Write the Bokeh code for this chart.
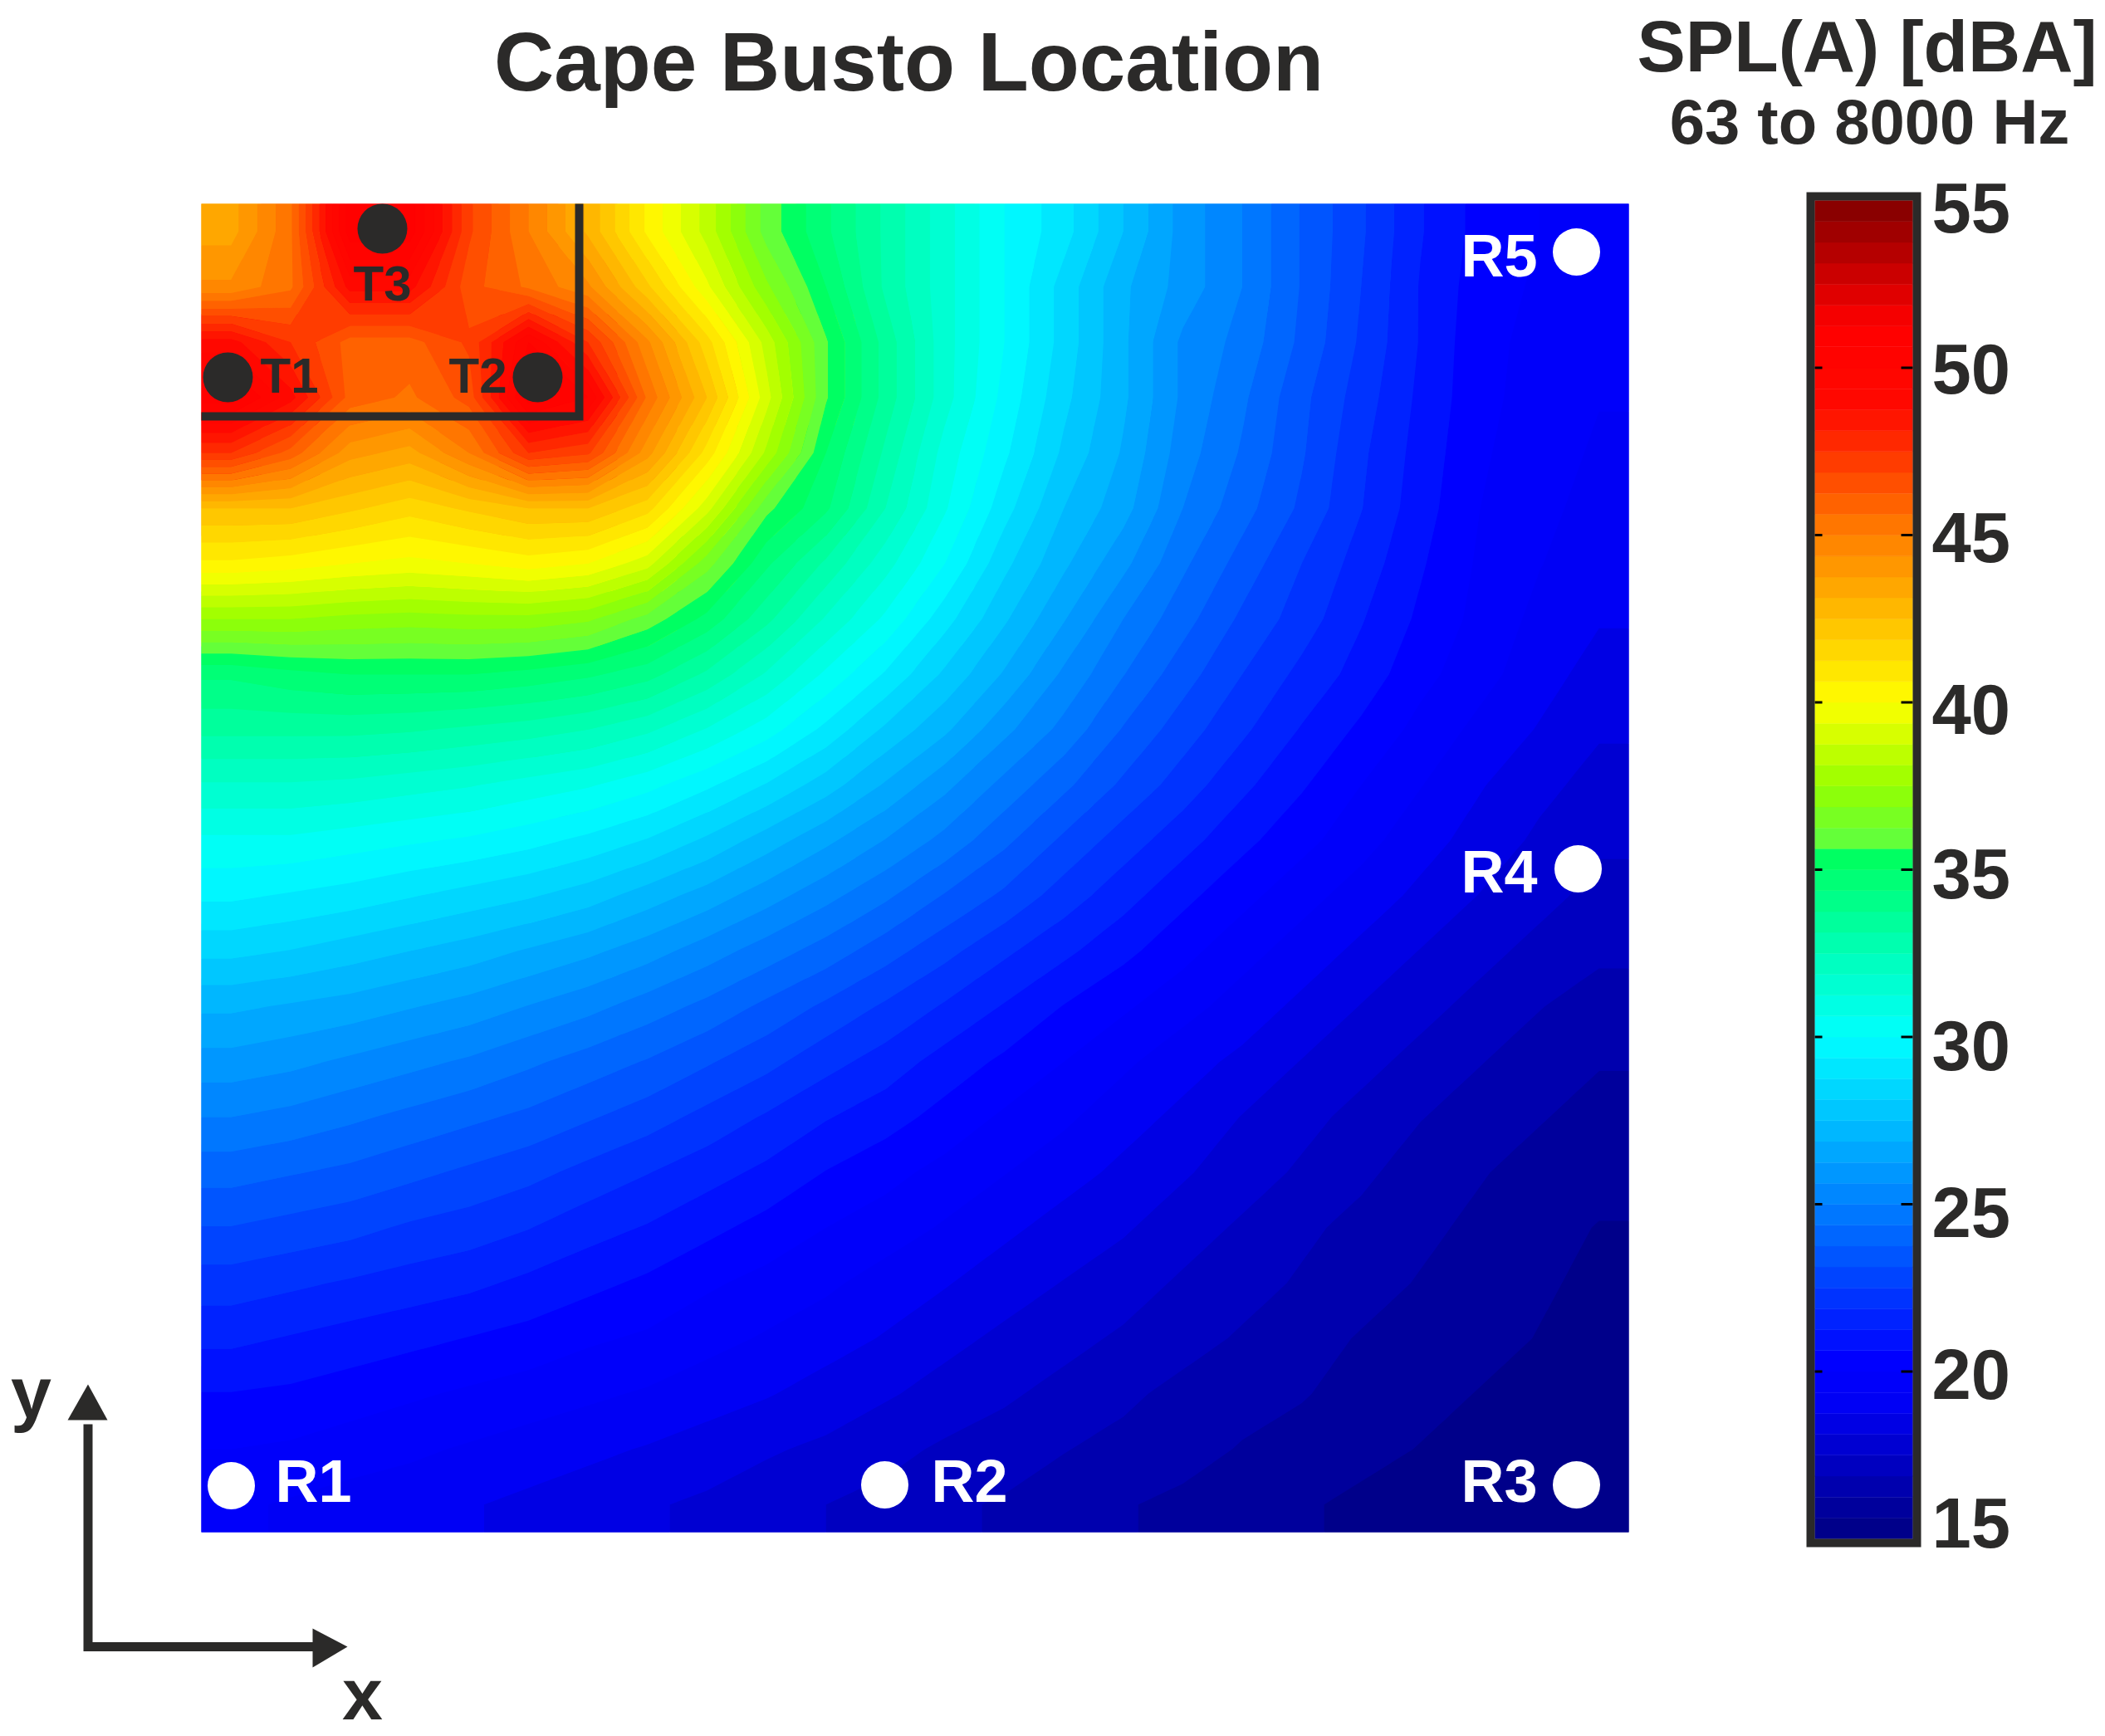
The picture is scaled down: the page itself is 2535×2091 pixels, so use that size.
import numpy as np
from bokeh.plotting import figure
from bokeh.models import LinearColorMapper, ColumnDataSource
from bokeh.core.properties import value
from bokeh.embed import file_html
from bokeh.resources import INLINE

# ---------- data ----------
title = "Cape Busto Location"
cb_title = "SPL(A) [dBA]"
cb_subtitle = "63 to 8000 Hz"
cb_labels = ["55", "50", "45", "40", "35", "30", "25", "20", "15"]
cb_ticks = [50, 45, 40, 35, 30, 25, 20]
db_low, db_high = 15, 55

# SPL [dBA], top row first, left column first
spl_rows = [
 [43.5,45.5,51,51,47,45,43,40.5,38.5,36,34.5,33,31.5,30,29,27.5,26,25,23.7,22.6,21.3,20.4,20,19.7],
 [44.5,45.5,49,49,46.5,45.5,44.5,42,39.5,37,35,33,31.5,30,28.5,27,26,25,23.7,22.5,21.2,20.3,19.9,19.6],
 [49,47.5,46,46,47,50,47.5,44.5,41.5,38.5,35.7,33.5,31.5,30,28.5,27,25.5,24.8,23.6,22.4,21.2,20.2,19.8,19.5],
 [51,49,46,45.5,46.5,51,50,45.5,42.5,39,35.7,33.5,31.5,29.8,28.3,27,25.5,24.5,23.3,22.2,21.1,20.2,19.7,19.4],
 [47.5,46,44,43.5,45,47.5,47,44,41,38,35,33,31,29.5,28,26.8,25.3,24.3,23.2,22,21,20.1,19.6,19.3],
 [42.5,42.5,42,41.5,42,42.5,42.5,41.5,39,35.8,34.5,32.5,30.7,29,27.5,26.5,25,24,23,21.9,20.9,20,19.5,19.2],
 [40.5,40.3,40,39.8,40,40.3,40,39,36.5,34.5,33,31.5,30,28.3,27,25.8,24.5,23.5,22.5,21.6,20.7,19.9,19.4,19],
 [37.5,37.5,37.3,37.2,37.3,37.3,37,36,34.8,33.3,31.8,30.5,29,27.6,26.3,25,24,23,22.2,21.3,20.5,19.8,19.2,18.8],
 [34.5,34.8,35,35,35,34.8,34.5,34,33,31.8,30.5,29.3,28,26.8,25.5,24.4,23.4,22.5,21.7,21,20.2,19.6,19,18.5],
 [33.3,33.3,33.3,33.2,33,32.8,32.5,32,31.2,30.3,29.2,28,27,25.8,24.8,23.7,22.8,22,21.2,20.5,19.8,19.2,18.7,18.2],
 [31.8,31.8,31.7,31.5,31.3,31,30.7,30.2,29.5,28.7,27.8,26.8,25.8,24.8,23.9,23,22.2,21.4,20.7,20,19.4,18.8,18.3,17.9],
 [30.5,30.5,30.3,30.1,29.9,29.6,29.2,28.7,28,27.2,26.4,25.6,24.8,23.9,23,22.2,21.5,20.8,20.2,19.6,19,18.5,18,17.6],
 [29.5,29.3,29.1,28.8,28.5,28.2,27.8,27.2,26.6,25.9,25.2,24.5,23.7,23,22.2,21.5,20.8,20.2,19.6,19.1,18.6,18.1,17.7,17.3],
 [28.3,28.1,27.8,27.5,27.2,26.8,26.4,25.9,25.3,24.7,24.1,23.4,22.7,22,21.4,20.8,20.2,19.6,19.1,18.6,18.1,17.7,17.3,17],
 [27,26.8,26.6,26.3,26,25.6,25.2,24.7,24.2,23.6,23,22.4,21.8,21.2,20.6,20.1,19.6,19.1,18.6,18.1,17.7,17.3,16.9,16.6],
 [26,25.8,25.5,25.2,24.9,24.5,24.1,23.7,23.2,22.7,22.1,21.6,21,20.5,20,19.5,19,18.6,18.1,17.7,17.3,16.9,16.6,16.3],
 [25,24.8,24.5,24.2,23.9,23.6,23.2,22.8,22.3,21.8,21.3,20.9,20.4,19.9,19.5,19,18.6,18.1,17.7,17.3,16.9,16.6,16.3,16],
 [24,23.8,23.6,23.3,23,22.7,22.3,21.9,21.5,21.1,20.6,20.2,19.8,19.4,19,18.6,18.2,17.8,17.4,17,16.6,16.3,16,15.8],
 [23.1,22.9,22.7,22.4,22.2,21.9,21.5,21.2,20.8,20.4,20,19.7,19.3,18.9,18.5,18.2,17.8,17.4,17,16.7,16.4,16.1,15.8,15.6],
 [22.2,22,21.8,21.6,21.4,21.1,20.8,20.5,20.1,19.8,19.5,19.1,18.8,18.4,18.1,17.8,17.4,17.1,16.8,16.5,16.2,15.9,15.7,15.5],
 [21.4,21.2,21,20.8,20.6,20.4,20.1,19.9,19.6,19.3,19,18.7,18.3,18,17.7,17.4,17.1,16.8,16.5,16.2,16,15.8,15.6,15.4],
 [20.6,20.5,20.3,20.1,19.9,19.7,19.5,19.3,19,18.8,18.5,18.2,17.9,17.6,17.3,17,16.7,16.5,16.3,16,15.8,15.6,15.4,15.3],
 [20,19.9,19.7,19.5,19.3,19.1,18.9,18.7,18.5,18.2,18,17.7,17.4,17.2,16.9,16.7,16.5,16.2,16,15.8,15.6,15.4,15.3,15.2],
 [19.5,19.3,19.1,19,18.8,18.6,18.4,18.2,18,17.8,17.5,17.3,17,16.8,16.6,16.3,16.1,15.9,15.7,15.5,15.4,15.3,15.2,15.1],
]

turbine_names = ["T1", "T2", "T3"]
turbine_x = [274, 647, 460]
turbine_y = [454, 454, 275]
receiver_names = ["R1", "R2", "R3", "R4", "R5"]
receiver_x = [278, 1065, 1898, 1900, 1898]
receiver_y = [1789, 1788, 1788, 1046, 303]

# ---------- styling ----------
INK = "#2b2a29"
FONT = value("Liberation Sans")

def H(px):
    """reference pixel row -> y value of the figure"""
    return 2091 - px

# colour scale of the figure (64 steps), with the jump seen just above 35 dB
anchors_v = [15, 19, 20.3, 25, 30, 33, 35.6, 35.61, 37.5, 40, 45, 48.8, 51.3, 55]
anchors_r = [0, 0, 0, 0, 0, 0, 0, 90, 150, 255, 255, 255, 255, 128]
anchors_g = [0, 0, 0, 128, 255, 255, 255, 255, 255, 255, 128, 10, 0, 0]
anchors_b = [130, 245, 255, 255, 255, 170, 90, 70, 0, 0, 0, 0, 0, 0]
edges = np.linspace(db_low, db_high, 65)
mids = (edges[:-1] + edges[1:]) / 2
palette = ["#%02x%02x%02x" % (int(np.interp(m, anchors_v, anchors_r)),
                              int(np.interp(m, anchors_v, anchors_g)),
                              int(np.interp(m, anchors_v, anchors_b))) for m in mids]
mapper = LinearColorMapper(palette=palette, low=db_low, high=db_high)

p = figure(width=2530, height=2090, x_range=(0, 2530), y_range=(1, 2091),
           output_backend="svg", toolbar_location=None, min_border=0)
p.axis.visible = False
p.grid.visible = False
p.outline_line_color = None
p.background_fill_color = "white"
p.border_fill_color = "white"

# heat map: the image underlies filled bands that the library's contour builder draws
FX0, FX1, FY0, FY1 = 242, 1961, 245, 1845
spl = np.array(spl_rows, dtype=float)
ny, nx = spl.shape
p.image(image=[spl[::-1]], x=FX0, y=H(FY1), dw=FX1 - FX0, dh=FY1 - FY0, color_mapper=mapper)
cell_x = (FX1 - FX0) / nx
cell_y = (FY1 - FY0) / ny
node_x = np.r_[FX0, FX0 + cell_x * (np.arange(nx) + 0.5), FX1]
node_y = np.r_[H(FY0), H(FY0 + cell_y * (np.arange(ny) + 0.5)), H(FY1)]
p.contour(node_x, node_y, np.pad(spl, 1, mode="edge"), levels=list(edges),
          fill_color=palette, line_color=None)

# box round the turbines
p.line([FX0, 697, 697], [H(501), H(501), H(FY0)], line_color=INK, line_width=10,
       line_join="miter", line_cap="butt")

# markers
p.scatter(turbine_x, [H(v) for v in turbine_y], size=60, marker="circle",
          fill_color=INK, line_color=None)
p.scatter(receiver_x, [H(v) for v in receiver_y], size=57, marker="circle",
          fill_color="white", line_color=None)

def label(x, y, txt, size, color=INK, align="center"):
    p.text(x=[x], y=[H(y)], text=[txt], text_font=FONT, text_font_style="bold",
           text_font_size=size, text_color=color, text_align=align, text_baseline="middle")

for name, x, y in zip(turbine_names, [348, 575, 460], [452, 452, 341]):
    label(x, y, name, "60px")
for name, x, y in zip(receiver_names, [377, 1167, 1805, 1805, 1805], [1783, 1783, 1783, 1049, 307]):
    label(x, y, name, "72px", color="white")

# titles ("100px" trips the page's font parser, so stay just under it)
label(1094, 74, title, "99.9px")
label(2248, 55, cb_title, "87.5px")
label(2251, 146, cb_subtitle, "76px")

# colour bar
CB_TOP, CB_BOT, CBX0, CBX1 = 241, 1853, 2185, 2303
def cb_y(v):
    return H(CB_BOT + (v - db_low) / (db_high - db_low) * (CB_TOP - CB_BOT))

cb_src = ColumnDataSource(dict(bottom=[cb_y(e) for e in edges[:-1]], top=[cb_y(e) for e in edges[1:]],
                               color=palette))
p.quad(left=CBX0, right=CBX1, bottom="bottom", top="top", fill_color="color", line_color="color",
       line_width=0.5, source=cb_src)
tick_y = [cb_y(v) for v in cb_ticks]
p.segment(x0=[CBX0] * len(tick_y), x1=[CBX0 + 9] * len(tick_y), y0=tick_y, y1=tick_y,
          line_color="black", line_width=3)
p.segment(x0=[CBX1 - 14] * len(tick_y), x1=[CBX1] * len(tick_y), y0=tick_y, y1=tick_y,
          line_color="black", line_width=3)
p.quad(left=[2180], right=[2308], top=[H(236)], bottom=[H(1858)], fill_alpha=0,
       line_color=INK, line_width=10, line_join="miter")
for lab, y in zip(cb_labels, [250, 444, 647, 854, 1052, 1259, 1460, 1655, 1834]):
    label(2326, y, lab, "85px", align="left")

# x / y direction arrows
p.line([105.5, 105.5, 385], [H(1715), H(1983), H(1983)], line_color=INK, line_width=11,
       line_join="miter", line_cap="butt")
p.patch([81, 105.5, 129], [H(1710), H(1667), H(1710)], fill_color=INK, line_color=None)
p.patch([376, 418, 376], [H(1961), H(1983), H(2008)], fill_color=INK, line_color=None)
label(37, 1677, "y", "88px")
label(436, 2040, "x", "88px")

open("out.html", "w").write(file_html(p, INLINE))
